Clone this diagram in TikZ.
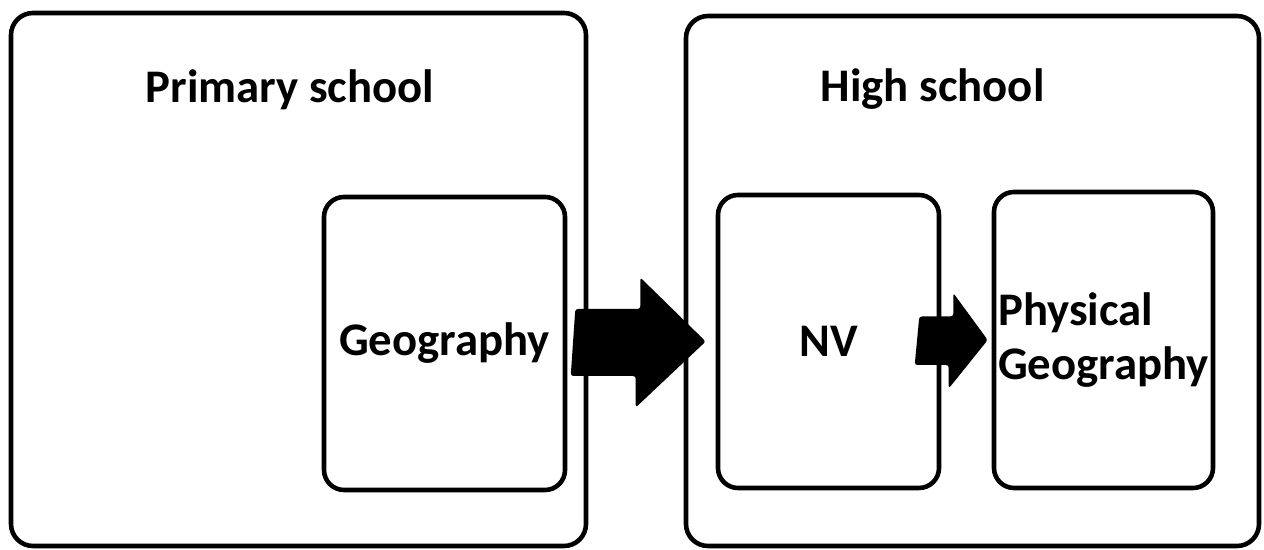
\documentclass[tikz,border=0pt]{standalone}
\usepackage{fontspec}
\setmainfont{Carlito}
\usetikzlibrary{calc}

\begin{document}
\begin{tikzpicture}[font=\fontsize{26.6}{31}\selectfont\bfseries,
 panel/.style={draw,line width=2.6pt,rounded corners=0.44cm},
 subject/.style={draw,line width=2.6pt,rounded corners=0.4cm,align=left,minimum height=5.86cm}]
\useasboundingbox (0,0) rectangle (25.28,11);
\node[panel,minimum width=11.5cm,minimum height=10.66cm] (prim) at (5.97,5.41) {};
\node[panel,minimum width=11.46cm,minimum height=10.6cm] (high) at (19.45,5.38) {};
\node[anchor=base] (primlbl) at (5.8,8.94) {Primary school};
\node[anchor=base] (highlbl) at (18.65,8.96) {High school};
\node[subject,minimum width=4.82cm] (geo) at (8.89,4.13) {Geography};
\node[subject,minimum width=4.42cm] (nv) at (16.57,4.17) {NV};
\node[subject,minimum width=4.38cm,minimum height=5.92cm,inner sep=0pt] (phys) at (22.07,4.2) {Physical\\Geography};
\fill[rounded corners=1.5pt] ($(geo.east)+(0.16,0.69)$) -- ++(1.3,0) -- ++(0,0.63) -- ($(nv.west)+(-0.2,0)$) -- ++(-1.4,-1.32) -- ++(0,0.63) -- ++(-1.3,0) -- cycle;
\fill[rounded corners=1.5pt] ($(nv.east)+(-0.44,0.5)$) -- ++(0.68,0) -- ++(0,0.47) -- ($(phys.west)+(-0.08,0)$) -- ++(-0.78,-0.97) -- ++(0,0.47) -- ++(-0.68,0) -- cycle;
\end{tikzpicture}
\end{document}
